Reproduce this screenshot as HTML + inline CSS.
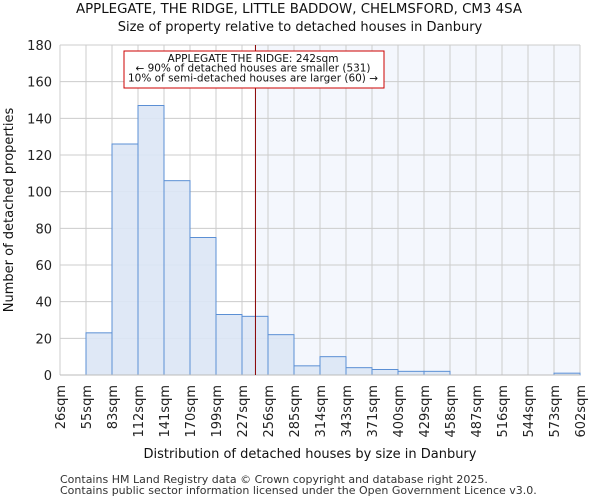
<!DOCTYPE html>
<html><head><meta charset="utf-8"><style>
body{margin:0;background:#fff;font-family:"DejaVu Sans","Liberation Sans",sans-serif}
svg text{font-family:"DejaVu Sans","Liberation Sans",sans-serif}
</style></head><body>
<svg id="c" width="600" height="500" xmlns="http://www.w3.org/2000/svg"></svg>
<script>
const binLabels=["26sqm","55sqm","83sqm","112sqm","141sqm","170sqm","199sqm","227sqm","256sqm","285sqm","314sqm","343sqm","371sqm","400sqm","429sqm","458sqm","487sqm","516sqm","544sqm","573sqm","602sqm"];
const binEdges=[26,55,83,112,141,170,199,227,256,285,314,343,371,400,429,458,487,516,544,573,602];
const counts=[0,23,126,147,106,75,33,32,22,5,10,4,3,2,2,0,0,0,0,1];
const yTicks=[0,20,40,60,80,100,120,140,160,180];
const marker=242;
const svg=document.getElementById('c');const NS='http://www.w3.org/2000/svg';
const L=60,R=580,T=45,B=375;
const n=binEdges.length-1;
const xi=i=>L+(R-L)*i/n;
function xv(v){for(let i=0;i<n;i++){if(v<=binEdges[i+1])return xi(i)+(v-binEdges[i])/(binEdges[i+1]-binEdges[i])*(xi(i+1)-xi(i));}return R;}
const y=v=>B-(B-T)*v/180;
function mk(t,a,txt){const e=document.createElementNS(NS,t);for(const k in a)e.setAttribute(k,a[k]);if(txt!=null)e.textContent=txt;svg.appendChild(e);return e;}
const mx=xv(marker);
let e=mk('rect',{x:mx,y:T,width:R-mx,height:B-T,fill:'#f4f7fd'});

for(const t of yTicks){e=mk('line',{x1:L,x2:R,y1:y(t),y2:y(t),stroke:'#cccccc'});

e=mk('text',{x:L-8,y:y(t)+5,'text-anchor':'end','font-size':'13',fill:'#222'},t);
}
for(let i=0;i<=n;i++){e=mk('line',{x1:xi(i),x2:xi(i),y1:T,y2:B,stroke:'#cccccc'});

const tx=xi(i)+5;e=mk('text',{x:tx,y:B+10,'text-anchor':'end','font-size':'13',fill:'#222',transform:`rotate(-90 ${tx} ${B+10})`},binLabels[i]);
}
for(let i=0;i<n;i++){if(!counts[i])continue;e=mk('rect',{x:xi(i),y:y(counts[i]),width:xi(i+1)-xi(i),height:B-y(counts[i]),fill:'#dce6f5','fill-opacity':'0.9',stroke:'#5b8fd4','stroke-width':'1'});
}
e=mk('line',{x1:L,x2:R,y1:B,y2:B,stroke:'#bbb'});
e=mk('line',{x1:mx,x2:mx,y1:T,y2:B,stroke:'#880000','stroke-width':'1'});

e=mk('rect',{x:124,y:51,width:260,height:37,fill:'#fff',stroke:'#cc0000'});

const ann=["APPLEGATE THE RIDGE: 242sqm","← 90% of detached houses are smaller (531)","10% of semi-detached houses are larger (60) →"];
const annW=[171,235,250];
ann.forEach((s,k)=>{e=mk('text',{x:253,y:62+k*9.7,'text-anchor':'middle','font-size':'10.3',fill:'#111',textLength:annW[k],lengthAdjust:'spacingAndGlyphs'},s);
});
e=mk('text',{x:299,y:13,'text-anchor':'middle','font-size':'13',fill:'#111',textLength:446,lengthAdjust:'spacingAndGlyphs'},"APPLEGATE, THE RIDGE, LITTLE BADDOW, CHELMSFORD, CM3 4SA");

e=mk('text',{x:300,y:31,'text-anchor':'middle','font-size':'13',fill:'#111'},"Size of property relative to detached houses in Danbury");

e=mk('text',{x:310,y:458,'text-anchor':'middle','font-size':'13',fill:'#111'},"Distribution of detached houses by size in Danbury");

e=mk('text',{x:13,y:210,'text-anchor':'middle','font-size':'13',fill:'#111',transform:'rotate(-90 13 210)'},"Number of detached properties");

e=mk('text',{x:60,y:483,'font-size':'11',fill:'#333'},"Contains HM Land Registry data © Crown copyright and database right 2025.");

e=mk('text',{x:60,y:494,'font-size':'11',fill:'#333'},"Contains public sector information licensed under the Open Government Licence v3.0.");

</script></body></html>
